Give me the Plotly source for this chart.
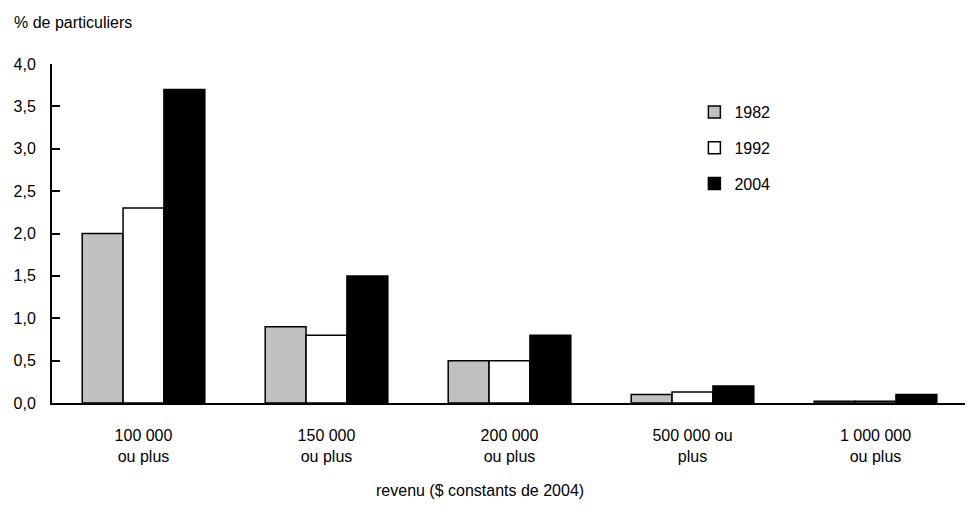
import plotly.graph_objects as go

categories = ["100 000<br>ou plus", "150 000<br>ou plus", "200 000<br>ou plus",
              "500 000 ou<br>plus", "1 000 000<br>ou plus"]
v1982 = [2.0, 0.9, 0.5, 0.1, 0.02]
v1992 = [2.3, 0.8, 0.5, 0.13, 0.02]
v2004 = [3.7, 1.5, 0.8, 0.2, 0.1]
series = [("1982", v1982, "#c0c0c0"), ("1992", v1992, "#ffffff"), ("2004", v2004, "#000000")]

FONT = "Liberation Sans Narrow, Arial Narrow, Liberation Sans, Arial, sans-serif"

# page is rendered with an 8px body margin
OFF = 8
W, H = 965, 524
L, T, R, B = 36, 56, 6, 129
pw = W - L - R
ph = H - T - B


def px(xpage):
    return (xpage - OFF - L) / pw


def py(ypage):
    return 1 - (ypage - OFF - T) / ph


fig = go.Figure()
for name, vals, col in series:
    fig.add_trace(go.Bar(x=categories, y=vals, name=name, marker_color=col,
                         marker_line_color="black", marker_line_width=1.5,
                         legendgroup=name))

fig.update_layout(
    width=W, height=H,
    margin=dict(l=L, r=R, t=T, b=B, pad=0),
    paper_bgcolor="white", plot_bgcolor="white",
    font=dict(family=FONT, size=16, color="black"),
    separators=", ",
    barmode="group", bargap=0.33, bargroupgap=0,
    showlegend=True,
    legend=dict(x=px(692), y=py(95), xanchor="left", yanchor="top",
                font=dict(size=16), itemwidth=30, tracegroupgap=12,
                bgcolor="rgba(0,0,0,0)"),
    xaxis=dict(showline=True, linecolor="black", linewidth=2, ticks="",
               showgrid=False, zeroline=False, ticklabelstandoff=17),
    yaxis=dict(range=[0, 4], dtick=0.5, tickformat=".1f", showline=True,
               linecolor="black", linewidth=2, ticks="inside", ticklen=8,
               tickwidth=2, tickcolor="black", showgrid=False, zeroline=False,
               ticklabelstandoff=11),
)
fig.add_annotation(text="% de particuliers", xref="paper", yref="paper",
                   x=px(4), y=py(22), xanchor="left", yanchor="middle",
                   showarrow=False, font=dict(size=16))
fig.add_annotation(text="revenu ($ constants de 2004)", xref="paper", yref="paper",
                   x=px(476), y=py(490), xanchor="center",
                   yanchor="middle", showarrow=False, font=dict(size=16))

fig.write_html("out.html")
